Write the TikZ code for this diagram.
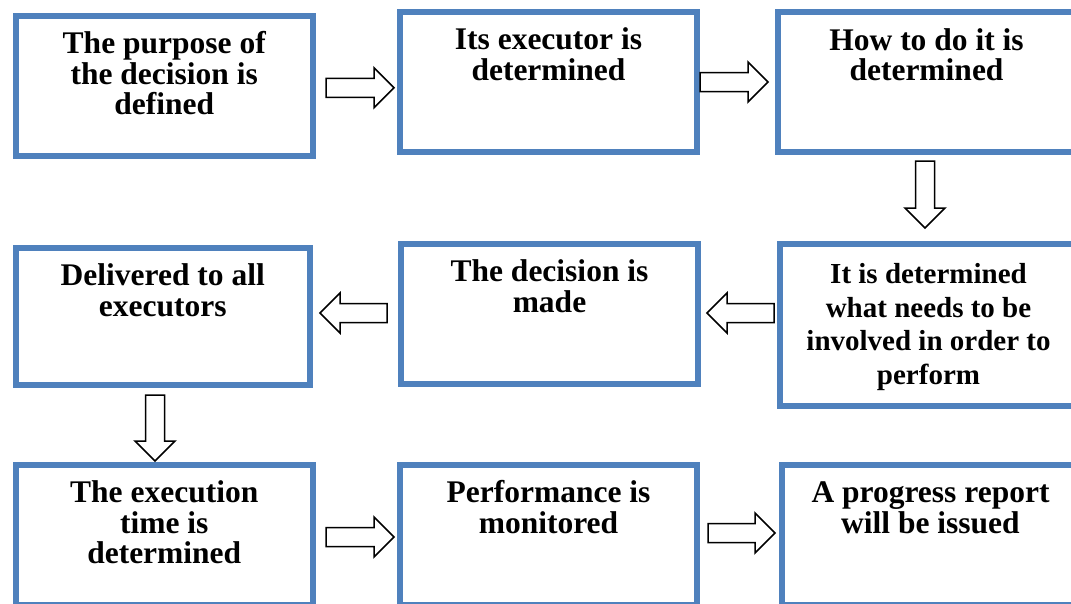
\documentclass[tikz,border=0pt]{standalone}
\usepackage{fontspec}
\setmainfont{Liberation Serif}
\usetikzlibrary{calc}
\definecolor{boxblue}{HTML}{4F81BD}
\tikzset{
  box/.style={draw=boxblue, line width=6pt, rectangle, inner sep=0pt, minimum width=297pt, minimum height=140pt},
  txt/.style={anchor=north, inner sep=0pt, align=center, font=\bfseries\fontsize{31.5}{30.3}\selectfont},
  txtsmall/.style={anchor=north, inner sep=0pt, align=center, font=\bfseries\fontsize{29}{33.5}\selectfont},
  blk/.style={draw=black, fill=white, line width=1.5pt, line join=miter}
}
\newcommand\blkarrow[2]{%
  \path ($(#2)!20pt!(#1)$) coordinate (bam);
  \draw[blk] ($(#1)!9.5pt!90:(#2)$) -- ($(bam)!9.5pt!90:(#2)$) -- ($(bam)!20pt!90:(#2)$) -- (#2)
    -- ($(bam)!20pt!-90:(#2)$) -- ($(bam)!9.5pt!-90:(#2)$) -- ($(#1)!9.5pt!-90:(#2)$) -- cycle;}
\newcommand\fl{\rule{0pt}{25pt}}
\begin{document}
\begin{tikzpicture}[x=1pt,y=-1pt]
\useasboundingbox (0,0) rectangle (1071,603);
\clip (0,0) rectangle (1071,603);
% boxes
\node[box, minimum width=297.5pt, minimum height=140.5pt] (b1) at (164.25,85.75) {};
\node[box] (b2) at (548.5,81.5) {};
\node[box] (b3) at (926.5,81.5) {};
\node[box, minimum width=294.5pt, minimum height=137pt] (b4) at (162.75,316.5) {};
\node[box] (b5) at (549.5,314) {};
\node[box, minimum height=161.5pt] (b6) at (928.5,324.75) {};
\node[box, minimum width=297.5pt] (b7) at (164.25,535) {};
\node[box] (b8) at (548.5,535) {};
\node[box] (b9) at (930.5,535) {};
% arrow end points
\coordinate (t12) at ($(b1.east)+(10,2)$);
\coordinate (h12) at ($(b2.west|-t12)+(-3,0)$);
\coordinate (t23) at ($(b2.east)+(0,0.5)$);
\coordinate (h23) at ($(b3.west|-t23)+(-7,0)$);
\coordinate (t36) at ($(b3.south)+(-1.5,6.5)$);
\coordinate (h36) at ($(b6.north-|t36)+(0,-13)$);
\coordinate (t65) at ($(b6.west)+(-3,-11.75)$);
\coordinate (h65) at ($(b5.east|-t65)+(6,0)$);
\coordinate (t54) at ($(b5.west)+(-11,-1)$);
\coordinate (h54) at ($(b4.east|-t54)+(7,0)$);
\coordinate (t47) at ($(b4.south)+(-7.75,7)$);
\coordinate (h47) at ($(b7.north-|t47)+(0,-1)$);
\coordinate (t78) at ($(b7.east)+(10,2)$);
\coordinate (h78) at ($(b8.west|-t78)+(-3,0)$);
\coordinate (t89) at ($(b8.east)+(8,-2)$);
\coordinate (h89) at ($(b9.west|-t89)+(-4,0)$);
% block arrows
\blkarrow{t12}{h12}
\blkarrow{t23}{h23}
\blkarrow{t36}{h36}
\blkarrow{t65}{h65}
\blkarrow{t54}{h54}
\blkarrow{t47}{h47}
\blkarrow{t78}{h78}
\blkarrow{t89}{h89}
% texts
\node[txt] (x1) at ($(b1.north)+(0,16)$) {\fl The purpose of\\the decision is\\defined};
\node[txt] (x2) at ($(b2.north)+(0,16)$) {\fl Its executor is\\determined};
\node[txt] (x3) at ($(b3.north)+(0,16.5)$) {\fl How to do it is\\determined};
\node[txt] (x4) at ($(b4.north)+(0,15.5)$) {\fl Delivered to all\\executors};
\node[txt] (x5) at ($(b5.north)+(0,15.5)$) {\fl The decision is\\made};
\node[txtsmall] (x6) at ($(b6.north)+(0,17.5)$) {\fl It is determined\\what needs to be\\involved in order to\\perform};
\node[txt] (x7) at ($(b7.north)+(0,15.5)$) {\fl The execution\\time is\\determined};
\node[txt] (x8) at ($(b8.north)+(0,15.5)$) {\fl Performance is\\monitored};
\node[txt] (x9) at ($(b9.north)+(0,15.5)$) {\fl A progress report\\will be issued};
\end{tikzpicture}
\end{document}
